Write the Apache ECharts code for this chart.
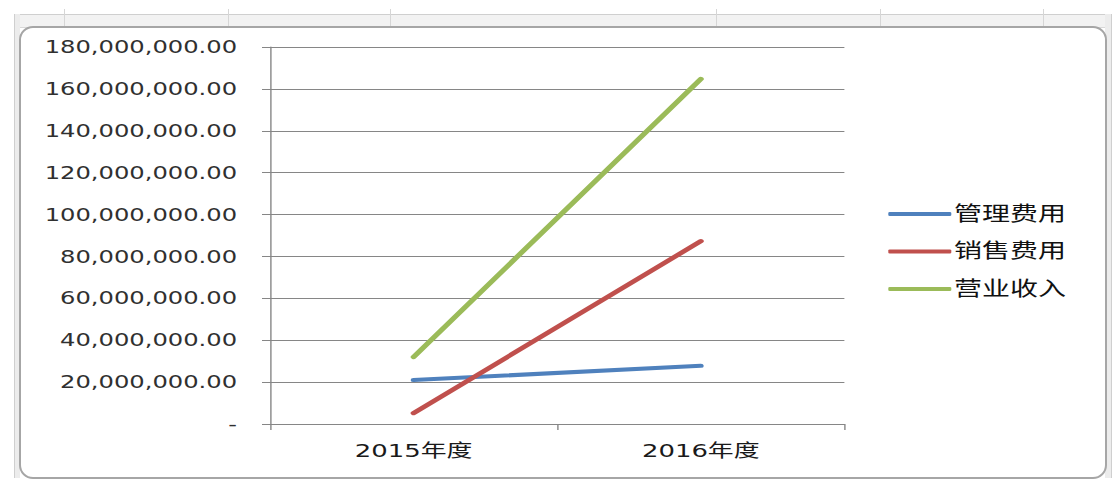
<!DOCTYPE html>
<html>
<head>
<meta charset="utf-8">
<script src="https://cdn.jsdelivr.net/npm/echarts@6/dist/echarts.min.js"></script>
<style>
html,body{margin:0;padding:0;background:#fff;width:1115px;height:480px;overflow:hidden;position:relative;}
#strip{position:absolute;left:14px;top:14px;width:1096px;height:12px;background:#f2f2f2;border-top:1px solid #cfcfcf;border-bottom:1px solid #d8d8d8;}
.col{position:absolute;top:9px;width:1px;height:18px;background:#d6d6d6;}
#sideL{position:absolute;left:14px;top:14px;width:5px;height:464px;background:#ececec;border-left:1px solid #cfcfcf;}
#sideR{position:absolute;left:1105px;top:14px;width:6px;height:464px;background:#ececec;border-right:1px solid #cfcfcf;}
#frame{position:absolute;left:19px;top:26px;width:1084px;height:449px;background:#fff;border:2px solid #a6a6a6;border-radius:14px;}
#chart{position:absolute;left:0;top:0;width:796.43px;height:480px;transform:scaleX(1.4);transform-origin:0 0;}
</style>
</head>
<body>
<div id="strip"></div>
<div id="sideL"></div>
<div id="sideR"></div>
<div class="col" style="left:64px"></div>
<div class="col" style="left:228px"></div>
<div class="col" style="left:390px"></div>
<div class="col" style="left:716px"></div>
<div class="col" style="left:880px"></div>
<div class="col" style="left:1043px"></div>
<div id="frame"></div>
<div id="chart"></div>
<script>
var categories = ['2015年度', '2016年度'];
var seriesNames = ['管理费用', '销售费用', '营业收入'];
var adminCost = [21000000, 27800000];
var salesCost = [5200000, 87300000];
var revenue = [32000000, 164700000];
var seriesColors = ['#4f81bd', '#c0504d', '#9bbb59'];

var chart = echarts.init(document.getElementById('chart'), null, {renderer: 'svg'});
var font = 'DejaVu Sans, Noto Sans CJK SC, sans-serif';
function fmt(v) {
  if (v === 0) return '-';
  return v.toLocaleString('en-US', {minimumFractionDigits: 2, maximumFractionDigits: 2});
}
var values = [adminCost, salesCost, revenue];
chart.setOption({
  animation: false,
  backgroundColor: 'transparent',
  grid: {left: 192.86, right: 192.86, top: 47, bottom: 56, containLabel: false},
  legend: {
    orient: 'vertical',
    left: 629.5,
    top: 198,
    icon: 'roundRect',
    itemWidth: 45,
    itemHeight: 4,
    itemGap: 15.5,
    data: seriesNames,
    textStyle: {fontFamily: font, fontSize: 20, color: '#111', lineHeight: 22, padding: [0, 0, 0, -3]}
  },
  xAxis: {
    type: 'category',
    data: categories,
    boundaryGap: true,
    axisLine: {show: true, lineStyle: {color: '#868686', width: 1}},
    axisTick: {show: true, length: 6, lineStyle: {color: '#868686'}},
    axisLabel: {fontFamily: font, fontSize: 18.5, color: '#1a1a1a', margin: 17}
  },
  yAxis: {
    type: 'value',
    min: 0,
    max: 180000000,
    interval: 20000000,
    axisLine: {show: true, lineStyle: {color: '#868686', width: 1}},
    axisTick: {show: true, length: 5.7, lineStyle: {color: '#868686'}},
    splitLine: {show: true, lineStyle: {color: '#868686', width: 1}},
    axisLabel: {fontFamily: font, fontSize: 17.3, color: '#303030', margin: 23.5, formatter: fmt}
  },
  series: seriesNames.map(function (n, i) {
    return {
      name: n,
      type: 'line',
      data: values[i],
      symbol: 'none',
      color: seriesColors[i],
      lineStyle: {width: 4.2, color: seriesColors[i], cap: 'round'},
      itemStyle: {color: seriesColors[i]}
    };
  })
});
</script>
</body>
</html>
